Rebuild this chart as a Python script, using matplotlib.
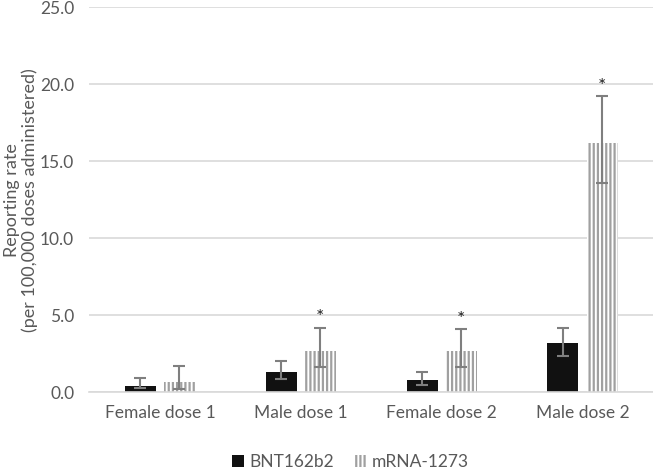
import matplotlib.pyplot as plt
import numpy as np

plt.rcParams['font.family'] = ['Lato', 'DejaVu Sans']
plt.rcParams['hatch.linewidth'] = 1.6

groups = ["Female dose 1", "Male dose 1", "Female dose 2", "Male dose 2"]
bnt = [0.4, 1.3, 0.8, 3.2]
bnt_lo = [0.25, 0.87, 0.45, 2.35]
bnt_hi = [0.9, 2.0, 1.32, 4.2]
mrna = [0.65, 2.65, 2.65, 16.2]
mrna_lo = [0.18, 1.62, 1.62, 13.6]
mrna_hi = [1.7, 4.2, 4.1, 19.2]
signif = [False, True, True, True]

fig = plt.figure(figsize=(6.53, 4.76), dpi=100)
ax = fig.add_axes([0.137, 0.176, 0.863, 0.809])

x = np.arange(len(groups))
w = 0.22
off = 0.139
grey = '#595959'
errc = '#7f7f7f'

ax.bar(x - off, bnt, w, color='#111111', label='BNT162b2', zorder=2)
ax.bar(x + off, mrna, w, color='white', edgecolor='#a0a0a0', hatch='||||',
       linewidth=0, label='mRNA-1273', zorder=2)

ax.errorbar(x - off, bnt, yerr=[np.subtract(bnt, bnt_lo), np.subtract(bnt_hi, bnt)],
            fmt='none', ecolor=errc, elinewidth=1.5, capsize=4, capthick=1.5, zorder=3)
ax.errorbar(x + off, mrna, yerr=[np.subtract(mrna, mrna_lo), np.subtract(mrna_hi, mrna)],
            fmt='none', ecolor=errc, elinewidth=1.5, capsize=4, capthick=1.5, zorder=3)

for i, s in enumerate(signif):
    if s:
        ax.text(x[i] + off, mrna_hi[i] + 0.1, '*', ha='center', va='bottom',
                fontsize=14, color='#222222')

ax.set_xlim(-0.5, 3.5)
ax.set_ylim(0, 25)
ax.set_yticks([0, 5, 10, 15, 20, 25])
ax.set_yticklabels(['%.1f' % v for v in [0, 5, 10, 15, 20, 25]])
ax.set_xticks(x)
ax.set_xticklabels(groups)
ax.tick_params(length=0, colors=grey, labelsize=12.5)
ax.tick_params(axis='y', pad=11)
ax.tick_params(axis='x', pad=9)
ax.yaxis.grid(True, color='#d9d9d9', linewidth=1.2, zorder=0)
ax.set_axisbelow(True)
for sp in ['top', 'right', 'left']:
    ax.spines[sp].set_visible(False)
ax.spines['bottom'].set_color('#d9d9d9')
ax.spines['bottom'].set_linewidth(1.2)

ax.set_ylabel('Reporting rate\n(per 100,000 doses administered)', fontsize=13,
              color=grey, linespacing=1.05)
ax.yaxis.set_label_coords(-0.092, 0.5)

fig.legend(loc='center', bbox_to_anchor=(0.537, 0.03), ncol=2, frameon=False,
           handlelength=0.7, handleheight=0.7, handletextpad=0.3, columnspacing=1.2,
           labelcolor=grey, fontsize=12.5)

fig.savefig('out.png', dpi=100)
